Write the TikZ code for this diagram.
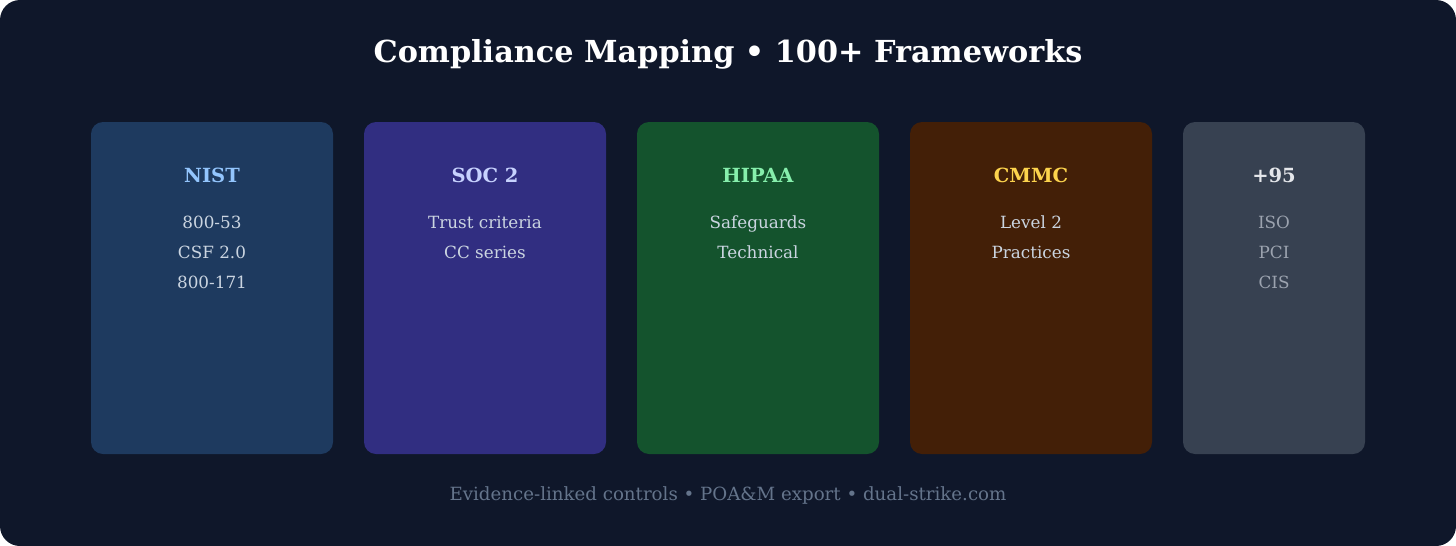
\documentclass[tikz,border=0pt]{standalone}
\usepackage{fontspec}
\setmainfont{DejaVu Serif}
\usetikzlibrary{positioning}
\definecolor{bgc}{HTML}{0F172A}
\definecolor{nistc}{HTML}{1E3A5F}
\definecolor{socc}{HTML}{312E81}
\definecolor{hipc}{HTML}{14532D}
\definecolor{cmmc}{HTML}{431F07}
\definecolor{morec}{HTML}{374151}
\definecolor{itemc}{HTML}{CBD5E1}
\definecolor{footc}{HTML}{64748B}
\begin{document}
\begin{tikzpicture}[x=1pt,y=-1pt,
   head/.style={font=\fontsize{19.5}{23}\selectfont\bfseries,text height=14pt,text depth=4pt},
   item/.style={font=\fontsize{16.8}{20}\selectfont,text=itemc,text height=12.5pt,text depth=3.5pt},
   every node/.style={inner sep=0pt}]
\fill[bgc,rounded corners=20pt] (0,0) rectangle (1456,546);
\useasboundingbox (0,0) rectangle (1456,546);
\node[font=\fontsize{30.3}{36}\selectfont\bfseries,text=white] (title) at (728,54) {Compliance Mapping • 100+ Frameworks};
% cards
\fill[nistc,rounded corners=12pt] (91,122) rectangle (333,454);
\fill[socc,rounded corners=12pt] (364,122) rectangle (606,454);
\fill[hipc,rounded corners=12pt] (637,122) rectangle (879,454);
\fill[cmmc,rounded corners=12pt] (910,122) rectangle (1152,454);
\fill[morec,rounded corners=12pt] (1183,122) rectangle (1365,454);
% NIST
\node[head,text={rgb,255:red,147;green,197;blue,253}] (nist) at (212,177) {NIST};
\node[item] (nist1) at (212,223.5) {800-53};
\node[item] (nist2) at (212,253.5) {CSF 2.0};
\node[item] (nist3) at (212,283.5) {800-171};
% SOC 2
\node[head,text={rgb,255:red,199;green,210;blue,254}] (soc) at (485,177) {SOC 2};
\node[item] (soc1) at (485,223.5) {Trust criteria};
\node[item] (soc2) at (485,253.5) {CC series};
% HIPAA
\node[head,text={rgb,255:red,134;green,239;blue,172}] (hipaa) at (758,177) {HIPAA};
\node[item] (hipaa1) at (758,223.5) {Safeguards};
\node[item] (hipaa2) at (758,253.5) {Technical};
% CMMC
\node[head,text={rgb,255:red,252;green,211;blue,77}] (cmmc) at (1031,177) {CMMC};
\node[item] (cmmc1) at (1031,223.5) {Level 2};
\node[item] (cmmc2) at (1031,253.5) {Practices};
% +95
\node[head,text={rgb,255:red,229;green,231;blue,235}] (more) at (1274,177) {+95};
\node[item,text={rgb,255:red,156;green,163;blue,175}] (more1) at (1274,223.5) {ISO};
\node[item,text={rgb,255:red,156;green,163;blue,175}] (more2) at (1274,253.5) {PCI};
\node[item,text={rgb,255:red,156;green,163;blue,175}] (more3) at (1274,283.5) {CIS};
\node[font=\fontsize{18.2}{22}\selectfont,text=footc] (foot) at (728,495) {Evidence-linked controls • POA\&M export • dual-strike.com};
\end{tikzpicture}
\end{document}
